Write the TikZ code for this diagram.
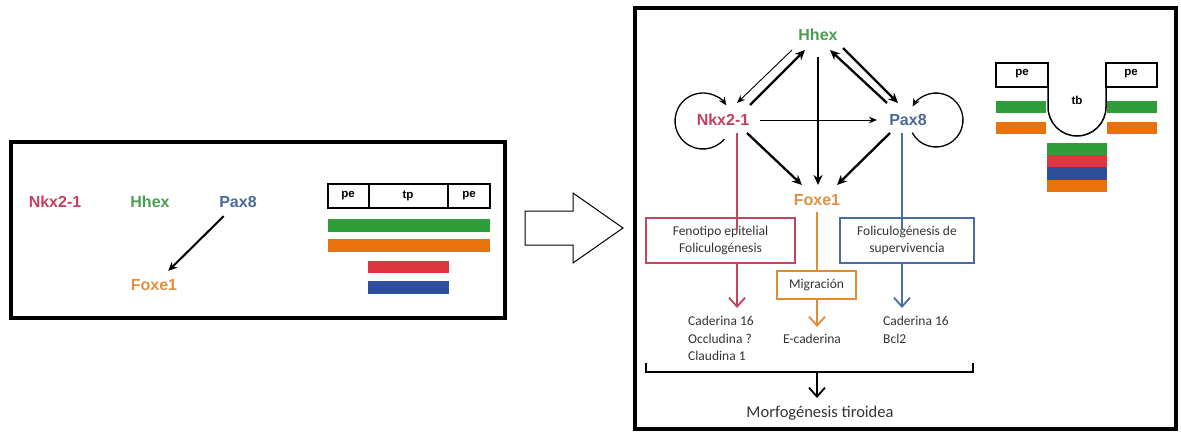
\documentclass[tikz,border=0pt]{standalone}
\usepackage{fontspec}
\setmainfont{Carlito}
\newfontfamily\genefont{Liberation Sans}
\usetikzlibrary{arrows.meta,calc}

\definecolor{nkxtxt}{HTML}{C63F5E}
\definecolor{hhextxt}{HTML}{4A9E52}
\definecolor{paxtxt}{HTML}{4A6898}
\definecolor{foxtxt}{HTML}{E0913F}
\definecolor{barred}{HTML}{E0353F}
\definecolor{bargreen}{HTML}{2E9D3A}
\definecolor{barblue}{HTML}{2D4E9A}
\definecolor{barorange}{HTML}{E8720C}
\definecolor{redline}{HTML}{C4435F}
\definecolor{blueline}{HTML}{4A6CA5}
\definecolor{orangeline}{HTML}{E48A35}
\definecolor{textgray}{HTML}{333333}

\begin{document}
\begin{tikzpicture}[x=1pt,y=-1pt,
  gene/.style={font=\genefont\bfseries\fontsize{16}{19}\selectfont, inner sep=0pt},
  tag/.style={font=\genefont\bfseries\fontsize{11.5}{13}\selectfont, inner sep=0pt},
  frame/.style={line width=4.5pt},
  thinarr/.style={line width=0.9pt, -{Stealth[length=8pt,width=6.5pt]}},
  boldarr/.style={line width=2.3pt, -{Stealth[length=10pt,width=9pt]}},
  cline/.style={line width=1.8pt},
  barbarr/.style={line width=1.8pt, -{Straight Barb[length=9pt,width=16pt]}},
  cbox/.style={draw, line width=1.8pt, inner sep=2pt, align=center, text=textgray,
    font=\fontsize{13.5}{16.5}\selectfont},
  listtxt/.style={inner sep=0pt, align=left, text=textgray,
    font=\fontsize{13.5}{17.5}\selectfont},
  partbox/.style={draw, line width=1.5pt}
]
\useasboundingbox (0,0) rectangle (1181,439);

% ---------- left panel ----------
\draw[frame] (11,142) rectangle (505,318);
\node[gene, text=nkxtxt]  (Lnkx) at (55,202)  {Nkx2-1};
\node[gene, text=hhextxt] (Lhhex) at (150,202) {Hhex};
\node[gene, text=paxtxt]  (Lpax) at (238,202) {Pax8};
\node[gene, text=foxtxt]  (Lfox) at (154,285) {Foxe1};
\draw[line width=2pt, -{Stealth[length=9pt,width=8pt]}, shorten <=20pt, shorten >=20pt]
  (Lpax.center) -- (Lfox.center);

% expression bars, left panel
\draw[partbox] (328,184) rectangle (490,208);
\draw[line width=1.5pt] (369,184) -- (369,208) (448,184) -- (448,208);
\node[tag] at (348,196) {pe};
\node[tag] at (408,196) {tp};
\node[tag] at (469,196) {pe};
\fill[bargreen]  (328,219) rectangle (490,232);
\fill[barorange] (328,239) rectangle (490,252);
\fill[barred]    (368,261) rectangle (449,273);
\fill[barblue]   (368,281) rectangle (449,294);

% ---------- transition arrow ----------
\draw[line width=1pt] (525,211) -- (573,211) -- (573,193) -- (623,228)
  -- (573,263) -- (573,245) -- (525,245) -- cycle;

% ---------- right panel ----------
\draw[frame] (635,8) rectangle (1176,429);

\node[gene, text=hhextxt] (hhex) at (818,35)  {Hhex};
\node[gene, text=nkxtxt]  (nkx)  at (723,120) {Nkx2-1};
\node[gene, text=paxtxt]  (pax)  at (908,120) {Pax8};
\node[gene, text=foxtxt]  (fox)  at (817,200) {Foxe1};

% regulatory interactions
\draw[thinarr] ([shift={(-26,15)}]hhex.center) -- ([shift={(14,-17)}]nkx.center);
\draw[boldarr] ([shift={(27,-15)}]nkx.center) -- ([shift={(-13,15)}]hhex.center);
\draw[boldarr] ([shift={(0,22)}]hhex.center) -- ([shift={(1,-15)}]fox.center);
\draw[boldarr] ([shift={(-21,-17)}]pax.center) -- ([shift={(12,15)}]hhex.center);
\draw[boldarr] ([shift={(25,13)}]hhex.center) -- ([shift={(-10,-17)}]pax.center);
\draw[thinarr] ([shift={(37,0)}]nkx.center) -- ([shift={(-31,0)}]pax.center);
\draw[boldarr] ([shift={(24,13)}]nkx.center) -- ([shift={(-15,-15)}]fox.center);
\draw[boldarr] ([shift={(-18,13)}]pax.center) -- ([shift={(20,-15)}]fox.center);

% self-activation loops
\draw[line width=1.3pt, -{Stealth[length=8pt,width=7pt]}]
  ([shift={(-20,1)}]nkx.center) ++(40:28) arc[start angle=40, end angle=326, radius=28];
\draw[line width=1.3pt, -{Stealth[length=8pt,width=7pt]}]
  ([shift={(28,0)}]pax.center) ++(152:27) arc[start angle=152, end angle=-150, radius=27];

% functional outputs
\node[cbox, draw=redline, minimum width=149pt, minimum height=45pt] (rbox) at (720.5,240.5)
  {Fenotipo epitelial\\Foliculogénesis};
\node[cbox, draw=blueline, minimum width=134pt, minimum height=45pt] (bbox) at (907,240.5)
  {Foliculogénesis de\\supervivencia};
\node[cbox, draw=orangeline, minimum width=79pt, minimum height=28pt] (obox) at (816.5,285)
  {Migración};

\draw[cline, redline] ([shift={(14,13)}]nkx.center) -- ([shift={(14,13)}]nkx.center |- rbox.north);
\draw[cline, blueline] ([shift={(-6,13)}]pax.center) -- ([shift={(-6,13)}]pax.center |- bbox.north);
\draw[cline, orangeline] ([shift={(0,12)}]fox.center) -- (fox.center |- obox.north);

\node[listtxt, anchor=north west] (rlist) at (688,316) {Caderina 16\\Occludina ?\\Claudina 1};
\node[listtxt, anchor=north west] (blist) at (883,316) {Caderina 16\\Bcl2};
\node[listtxt, anchor=center] (olist) at (812,339) {E-caderina};

\draw[barbarr, redline] (rbox.south -| 737,0) -- (737,308);
\draw[barbarr, blueline] (bbox.south -| 902,0) -- (902,308);
\draw[barbarr, orangeline] (obox.south -| 817,0) -- ([shift={(5,-12)}]olist.center);

% convergence bracket
\draw[line width=1.3pt] (646,363) -- (646,372) -- (973,372) -- (973,363);
\coordinate (brk) at (817,372);
\node[inner sep=0pt, text=textgray, font=\fontsize{16.5}{19}\selectfont] (morf) at (820,413)
  {Morfogénesis tiroidea};
\draw[barbarr, black] (brk) -- ([shift={(-3,-15)}]morf.center);

% expression domains: pharyngeal endoderm (pe) and thyroid bud (tb)
\draw[partbox] (996,63) rectangle (1048,87);
\draw[partbox] (1106,63) rectangle (1157,87);
\draw[partbox] (1048,63) -- (1048,107) arc[start angle=180, end angle=0, radius=29] -- (1106,63);
\node[tag] at (1022,74) {pe};
\node[tag] at (1131,74) {pe};
\node[tag] at (1077,100) {tb};
\fill[bargreen]  (996,101) rectangle (1046,113);
\fill[bargreen]  (1107,101) rectangle (1157,113);
\fill[barorange] (996,122) rectangle (1046,134);
\fill[barorange] (1107,122) rectangle (1157,134);
\fill[bargreen]  (1047,143) rectangle (1107,155);
\fill[barred]    (1047,155) rectangle (1107,167);
\fill[barblue]   (1047,167) rectangle (1107,180);
\fill[barorange] (1047,180) rectangle (1107,192);
\end{tikzpicture}
\end{document}
